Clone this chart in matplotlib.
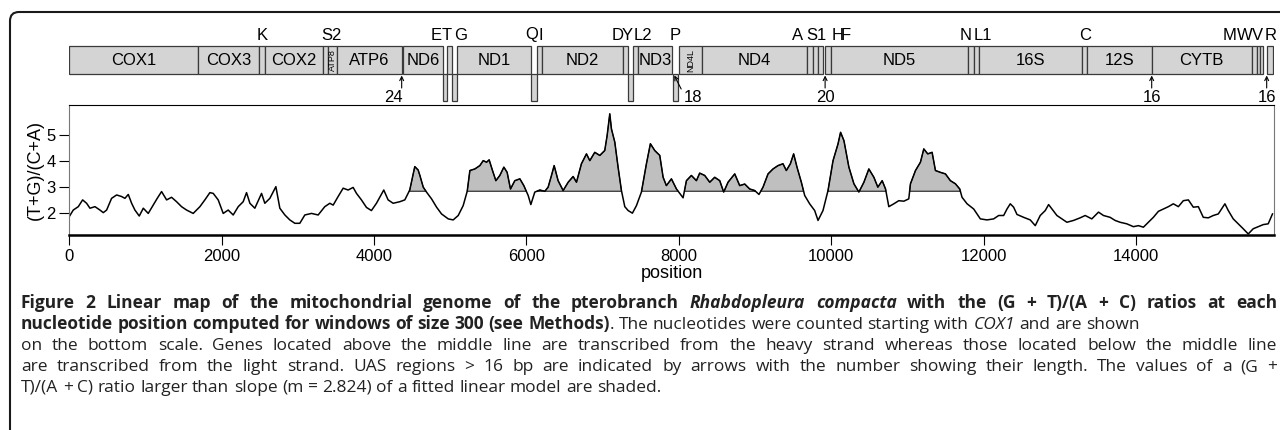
import numpy as np
import matplotlib.pyplot as plt
from matplotlib.patches import Rectangle, FancyBboxPatch
from matplotlib.transforms import IdentityTransform

W, H = 1280, 430
XMAX = 15810
SLOPE = 2.824

# (T+G)/(C+A) ratio
pos = [0, 52, 118, 175, 227, 271, 337, 402, 446, 490, 555, 621, 686, 730, 774, 818,
       861, 918, 971, 1036, 1102, 1154, 1211, 1277, 1342, 1408, 1473, 1539, 1626,
       1714, 1779, 1845, 1889, 1954, 2020, 2085, 2151, 2217, 2282, 2326, 2370, 2435,
       2523, 2566, 2632, 2711, 2763, 2829, 2894, 2960, 3025, 3091, 3178, 3266, 3353,
       3419, 3463, 3528, 3594, 3659, 3725, 3769, 3834, 3900, 3965, 4031, 4127, 4184,
       4250, 4337, 4403, 4468, 4534, 4578,
       4601, 4645, 4688, 4754, 4820, 4885, 4973, 5038, 5104, 5169, 5222, 5257, 5322,
       5388, 5432, 5476, 5510, 5554, 5598, 5650, 5703, 5746, 5790, 5847, 5913, 5965,
       6022, 6057, 6109, 6175, 6240, 6284, 6328, 6363, 6415, 6481, 6547, 6612, 6656,
       6721, 6787, 6831, 6896, 6962, 7027, 7058, 7093, 7115, 7159, 7202, 7246, 7290,
       7334, 7390, 7443, 7508, 7574, 7626, 7683, 7749, 7793, 7836, 7902, 7968, 8055,
       8099, 8164, 8230, 8273, 8339, 8405, 8470, 8536, 8588, 8645, 8733, 8798, 8864,
       8929, 8995, 9051, 9104, 9170, 9235, 9301, 9366, 9410, 9463, 9506, 9550, 9607,
       9651, 9716, 9782, 9826, 9891, 9957, 10023, 10088,
       10122, 10166, 10231, 10297, 10362, 10428, 10493, 10559, 10611, 10668, 10712,
       10755, 10821, 10886, 10952, 11017, 11039, 11105, 11170, 11214, 11266, 11323,
       11367, 11432, 11498, 11563, 11629, 11686, 11716, 11782, 11869, 11956, 12044,
       12131, 12197, 12262, 12306, 12349, 12393, 12437, 12524, 12611, 12677, 12742,
       12808, 12852, 12896, 12961, 13026, 13092, 13179, 13266, 13332, 13419, 13507,
       13572, 13659, 13725, 13790, 13878, 13965, 14031, 14096, 14162, 14227, 14293,
       14358, 14424, 14489, 14555, 14620, 14686, 14751, 14817, 14882, 14948, 15013,
       15079, 15166, 15210, 15275, 15341, 15406, 15472, 15537, 15603, 15669, 15734,
       15790]
ratio = [1.85, 2.10, 2.23, 2.49, 2.36, 2.17, 2.23, 2.10, 2.00, 2.10, 2.55, 2.68, 2.62,
         2.55, 2.70, 2.36, 2.10, 1.87, 2.17, 1.97, 2.29, 2.55, 2.81, 2.49, 2.59, 2.42,
         2.23, 2.10, 1.97, 2.23, 2.49, 2.77, 2.74, 2.49, 1.97, 2.10, 1.91, 2.23, 2.42,
         2.77, 2.36, 2.17, 2.74, 2.36, 2.55, 3.00, 2.17, 1.91, 1.72, 1.59, 1.59, 1.91,
         1.97, 1.91, 2.23, 2.36, 2.29, 2.62, 2.94, 2.87, 2.97, 2.74, 2.49, 2.20, 2.08,
         2.36, 2.87, 2.49, 2.36, 2.42, 2.49, 2.87, 3.77, 3.64,
         3.43, 2.98, 2.79, 2.53, 2.21, 1.95, 1.76, 1.72, 1.89, 2.27, 2.82, 3.62, 3.68,
         3.81, 4.00, 3.94, 4.03, 3.62, 3.23, 3.43, 3.75, 3.55, 2.91, 3.23, 3.30, 3.04,
         2.66, 2.31, 2.79, 2.87, 2.82, 2.98, 3.43, 3.81, 3.23, 2.85, 3.17, 3.39, 3.17,
         3.88, 4.26, 4.00, 4.32, 4.20, 4.39, 4.96, 5.80, 5.22, 4.71, 3.75, 2.85, 2.23,
         2.08, 1.98, 2.27, 2.79, 3.88, 4.65, 4.39, 4.20, 3.36, 3.04, 3.30, 2.91, 2.57,
         3.23, 3.43, 3.23, 3.52, 3.43, 3.17, 3.36, 3.23, 2.79, 3.17, 3.49, 3.04, 3.10,
         2.91, 2.85, 2.70, 2.98, 3.49, 3.68, 3.81, 3.88, 3.62, 3.88, 4.26, 3.75, 3.17,
         2.66, 2.34, 2.08, 1.70, 2.08, 2.85, 4.00, 4.64,
         5.09, 4.77, 3.75, 3.11, 2.79, 3.17, 3.68, 3.36, 2.98, 3.23, 2.91,
         2.23, 2.34, 2.46, 2.44, 2.53, 3.11, 3.62, 3.94, 4.45, 4.26, 4.32,
         3.62, 3.55, 3.49, 3.23, 3.11, 2.91, 2.59, 2.34, 2.14, 1.76, 1.72,
         1.76, 1.89, 1.89, 2.14, 2.34, 2.21, 1.93, 1.82, 1.72, 1.50, 1.89,
         2.08, 2.31, 2.14, 1.89, 1.76, 1.63, 1.70, 1.80, 1.89, 1.76, 2.02,
         1.89, 1.82, 1.70, 1.63, 1.57, 1.46, 1.50, 1.44, 1.63, 1.82, 2.05,
         2.14, 2.23, 2.34, 2.23, 2.46, 2.49, 2.21, 2.23, 1.82, 1.80, 1.89,
         1.95, 2.34, 2.08, 1.76, 1.57, 1.38, 1.18, 1.38, 1.46, 1.54, 1.57,
         1.95]
shade_from, shade_to = 4400, 11750

# genes on the heavy strand (inside the bar)
heavy_names = ["COX1", "COX3", "K", "COX2", "S2", "ATP8", "ATP6", "ND6", "T", "ND1",
               "I", "ND2", "D", "L2", "ND3", "ND4L", "ND4", "A", "S1", "H", "F", "ND5",
               "N", "L1", "16S", "C", "12S", "CYTB", "M", "W", "V", "R"]
heavy_start = [0, 1693, 2493, 2568, 3333, 3390, 3517, 4383, 4960, 5084, 6134, 6200,
               7270, 7402, 7468, 8005, 8299, 9685, 9764, 9829, 9924, 9993, 11798, 11873,
               11942, 13286, 13352, 14205, 15517, 15582, 15626, 15714]
heavy_end = [1693, 2493, 2568, 3333, 3390, 3517, 4362, 4900, 5018, 6059, 6200, 7270,
             7336, 7468, 7913, 8299, 9685, 9764, 9829, 9895, 9993, 11798, 11873, 11942,
             13286, 13352, 14205, 15517, 15582, 15626, 15670, 15800]

# tRNAs on the light strand (below the bar)
light_names = ["E", "G", "Q", "Y", "P"]
light_start = [4900, 5018, 6059, 7336, 7927]
light_end = [4960, 5084, 6134, 7402, 7992]

small_genes = ["ATP8", "ND4L"]

trna_labels = ["K", "S2", "E", "T", "G", "Q", "I", "D", "Y", "L2", "P", "A", "S1", "H",
               "F", "N", "L1", "C", "M", "W", "V", "R"]
trna_label_x = [2525, 3444, 4813, 4953, 5137, 6068, 6186, 7192, 7323, 7525, 7949, 9554,
                9808, 10079, 10193, 11768, 11995, 13330, 15232, 15429, 15596, 15767]

uas_pos = [4362, 8000, 9919, 14205, 15714]
uas_len = [24, 18, 20, 16, 16]

plt.rcParams['font.family'] = ['Liberation Sans', 'DejaVu Sans']

fig = plt.figure(figsize=(W / 100, H / 100), dpi=100)


def px_axes(x0, y0, x1, y1):
    return fig.add_axes([x0 / W, 1 - y1 / H, (x1 - x0) / W, (y1 - y0) / H])


# ---- gene map ----
ax_g = px_axes(69.3, 20, 1274, 105)
ax_g.set_xlim(0, XMAX)
ax_g.set_ylim(105, 20)
ax_g.axis('off')

GRAY = '#d4d4d4'
EDGE = '#3a3a3a'
for name, s, e in zip(heavy_names, heavy_start, heavy_end):
    ax_g.add_patch(Rectangle((s, 46), e - s, 28, facecolor=GRAY, edgecolor=EDGE, lw=0.9))
    if len(name) > 2:
        cx = (s + e) / 2
        if name in small_genes:
            ax_g.text(cx, 60, name, ha='center', va='center', rotation=90, fontsize=6.5)
        else:
            ax_g.text(cx, 60.5, name, ha='center', va='center', fontsize=12)
for name, s, e in zip(light_names, light_start, light_end):
    ax_g.add_patch(Rectangle((s, 74), e - s, 27, facecolor=GRAY, edgecolor=EDGE, lw=0.9))

for lab, x in zip(trna_labels, trna_label_x):
    ax_g.text(x, 35, lab, ha='center', va='center', fontsize=12)

for p, n in zip(uas_pos, uas_len):
    if n == 18:
        ax_g.annotate('', xy=(p - 60, 75.5), xytext=(p + 30, 89),
                      arrowprops=dict(arrowstyle='->', lw=0.8, color='black',
                                      shrinkA=0, shrinkB=0, mutation_scale=7))
        ax_g.text(p + 180, 97, str(n), ha='center', va='center', fontsize=12)
    else:
        ax_g.annotate('', xy=(p, 75.5), xytext=(p, 88),
                      arrowprops=dict(arrowstyle='->', lw=0.8, color='black',
                                      shrinkA=0, shrinkB=0, mutation_scale=7))
        dx = -110 if n == 24 else 0
        ax_g.text(p + dx, 97, str(n), ha='center', va='center', fontsize=12)

# ---- ratio plot ----
ax = px_axes(69.3, 105, 1274, 235)
x = np.array(pos)
y = np.array(ratio)
mask = (y > SLOPE) & (x > shade_from) & (x < shade_to)
ax.fill_between(x, SLOPE, y, where=mask, interpolate=True, facecolor='#bfbfbf',
                edgecolor='black', lw=0.7)
ax.plot(x, y, color='black', lw=1.1)
ax.set_xlim(0, XMAX)
ax.set_ylim(1.14, 6.14)
ax.set_yticks([2, 3, 4, 5])
ax.set_xticks(range(0, 16000, 2000))
ax.tick_params(length=7, width=0.8, labelsize=12, pad=3)
for side in ['left', 'right']:
    ax.spines[side].set_color('#777777')
    ax.spines[side].set_linewidth(0.8)
ax.spines['top'].set_linewidth(0.8)
ax.spines['bottom'].set_linewidth(1.8)

fig.text(35 / W, 1 - 170 / H, '(T+G)/(C+A)', rotation=90, ha='center', va='center',
         fontsize=13)
fig.text(671.7 / W, 1 - 273 / H, 'position', ha='center', va='center', fontsize=13)

# ---- frame ----
frame = FancyBboxPatch((10, -60), 1400, H - 12 + 60,
                       boxstyle='round,pad=0,rounding_size=9',
                       transform=IdentityTransform(), fill=False, lw=1.5,
                       edgecolor='#1a1a1a')
fig.add_artist(frame)

# ---- caption ----
CAP_FONT = ['Open Sans', 'DejaVu Sans']
CAP_SIZE = 12.5
renderer = fig.canvas.get_renderer()


def text_width(s, weight, style):
    t = fig.text(0, 0, s, fontsize=CAP_SIZE, family=CAP_FONT, weight=weight, style=style)
    w = t.get_window_extent(renderer).width
    t.remove()
    return w


space_w = text_width('x x', 'normal', 'normal') - text_width('xx', 'normal', 'normal')


def caption_line(baseline, segments, justify, x0=21, x1=1277):
    pieces = []
    pending = False
    for text, weight, style in segments:
        parts = text.split(' ')
        for i, p in enumerate(parts):
            if i > 0:
                pending = True
            if p:
                pieces.append((p, weight, style, pending and len(pieces) > 0))
                pending = False
    widths = [text_width(p, w, s) for p, w, s, _ in pieces]
    n_sp = sum(1 for pc in pieces if pc[3])
    natural = sum(widths) + n_sp * space_w
    extra = (x1 - x0 - natural) / n_sp if justify and n_sp else 0
    xx = x0
    for (p, w, s, sp), wd in zip(pieces, widths):
        if sp:
            xx += space_w + extra
        fig.text(xx / W, 1 - baseline / H, p, fontsize=CAP_SIZE, family=CAP_FONT,
                 weight=w, style=s, va='baseline', ha='left', color='#222222')
        xx += wd


B, R, I = 'bold', 'normal', 'italic'
caption_line(308, [("Figure 2 Linear map of the mitochondrial genome of the pterobranch ", B, R),
                   ("Rhabdopleura compacta", B, I),
                   (" with the (G + T)/(A + C) ratios at each", B, R)], True)
caption_line(329, [("nucleotide position computed for windows of size 300 (see Methods)", B, R),
                   (". The nucleotides were counted starting with ", R, R),
                   ("COX1", R, I), (" and are shown", R, R)], False)
caption_line(350, [("on the bottom scale. Genes located above the middle line are transcribed "
                    "from the heavy strand whereas those located below the middle line", R, R)], True)
caption_line(371, [("are transcribed from the light strand. UAS regions > 16 bp are indicated by "
                    "arrows with the number showing their length. The values of a (G +", R, R)], True)
caption_line(392, [("T)/(A + C) ratio larger than slope (m = 2.824) of a fitted linear model "
                    "are shaded.", R, R)], False)

fig.savefig('out.png', dpi=100)
